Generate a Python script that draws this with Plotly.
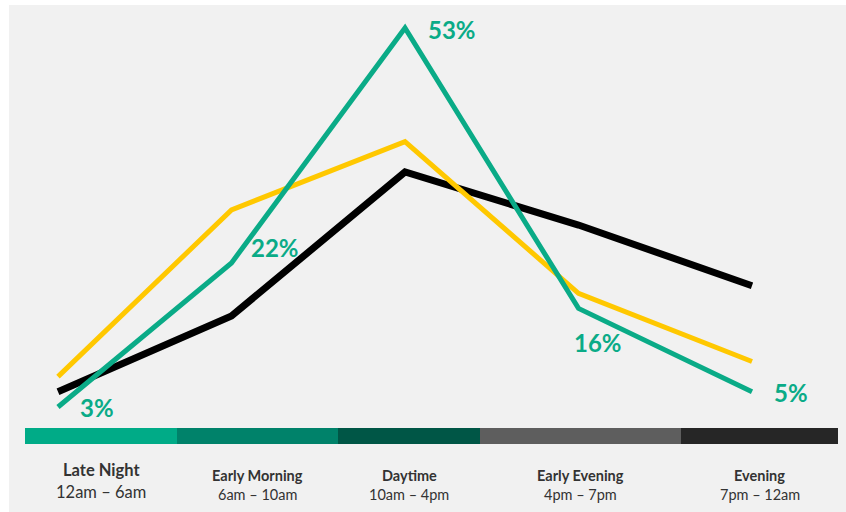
import plotly.graph_objects as go

# Share of activity by time of day (%)
periods = ["Late Night", "Early Morning", "Daytime", "Early Evening", "Evening"]
hours = ["12am – 6am", "6am – 10am", "10am – 4pm", "4pm – 7pm", "7pm – 12am"]
green_vals = [3, 22, 53, 16, 5]
yellow_vals = [7, 29, 38, 18, 9]
black_vals = [5, 15, 34, 27, 19]

band_colors = ["#00ab87", "#00826a", "#005646", "#5e5e5e", "#262626"]

W, H = 846, 512
FONT = "Lato"
GREEN = "#0aab87"
YELLOW = "#ffc800"
BLACK = "#000000"

x = list(range(len(periods)))

fig = go.Figure()
fig.add_trace(go.Scatter(x=x, y=black_vals, mode="lines",
                         line=dict(color=BLACK, width=7), hoverinfo="skip"))
fig.add_trace(go.Scatter(x=x, y=yellow_vals, mode="lines",
                         line=dict(color=YELLOW, width=5), hoverinfo="skip"))
fig.add_trace(go.Scatter(x=x, y=green_vals, mode="lines",
                         line=dict(color=GREEN, width=5), hoverinfo="skip"))

# value labels for the green series
label_offsets = [(39, -1), (43, 15), (47, -2), (19, -34), (39, -1)]
for xi, v, (dx, dy) in zip(x, green_vals, label_offsets):
    fig.add_annotation(x=xi, y=v, text=f"<b>{v}%</b>", showarrow=False,
                       xshift=dx, yshift=dy,
                       font=dict(family=FONT, size=24, color=GREEN))

# light panel behind the chart
fig.add_shape(type="rect", xref="paper", yref="paper",
              x0=9 / W, x1=1, y0=0, y1=1 - 5 / H,
              fillcolor="#f1f1f1", line=dict(width=0), layer="below")

# time-of-day band under the chart
band_edges = [25, 177, 338, 480, 681, 838]
band_top, band_bottom = 428, 444
for i, c in enumerate(band_colors):
    fig.add_shape(type="rect", xref="paper", yref="paper",
                  x0=band_edges[i] / W, x1=band_edges[i + 1] / W,
                  y0=1 - band_bottom / H, y1=1 - band_top / H,
                  fillcolor=c, line=dict(width=0), layer="above")

for i, (p, h) in enumerate(zip(periods, hours)):
    cx = (band_edges[i] + band_edges[i + 1]) / 2 / W
    big = i == 0
    fig.add_annotation(xref="paper", yref="paper", x=cx,
                       y=1 - (470 if big else 475) / H,
                       text=f"<b>{p}</b>", showarrow=False,
                       xanchor="center", yanchor="middle",
                       font=dict(family=FONT, size=16.5 if big else 14.5, color="#333333"))
    fig.add_annotation(xref="paper", yref="paper", x=cx,
                       y=1 - (492 if big else 494) / H,
                       text=h, showarrow=False,
                       xanchor="center", yanchor="middle",
                       font=dict(family=FONT, size=16.5 if big else 14.5, color="#333333"))

# axis ranges chosen so category 0 sits at x=58px, category 4 at x=752px,
# and 0% at y≈430px with 7.58px per percentage point
px_per_x = (752 - 58) / 4
px_per_y = 7.58
zero_y = 429.7
fig.update_xaxes(range=[-58 / px_per_x, (W - 58) / px_per_x],
                 visible=False, fixedrange=True)
fig.update_yaxes(range=[-(H - zero_y) / px_per_y, zero_y / px_per_y],
                 visible=False, fixedrange=True)

fig.update_layout(width=W, height=H, margin=dict(l=0, r=0, t=0, b=0),
                  paper_bgcolor="white", plot_bgcolor="rgba(0,0,0,0)",
                  showlegend=False)

fig.write_html("out.html")
